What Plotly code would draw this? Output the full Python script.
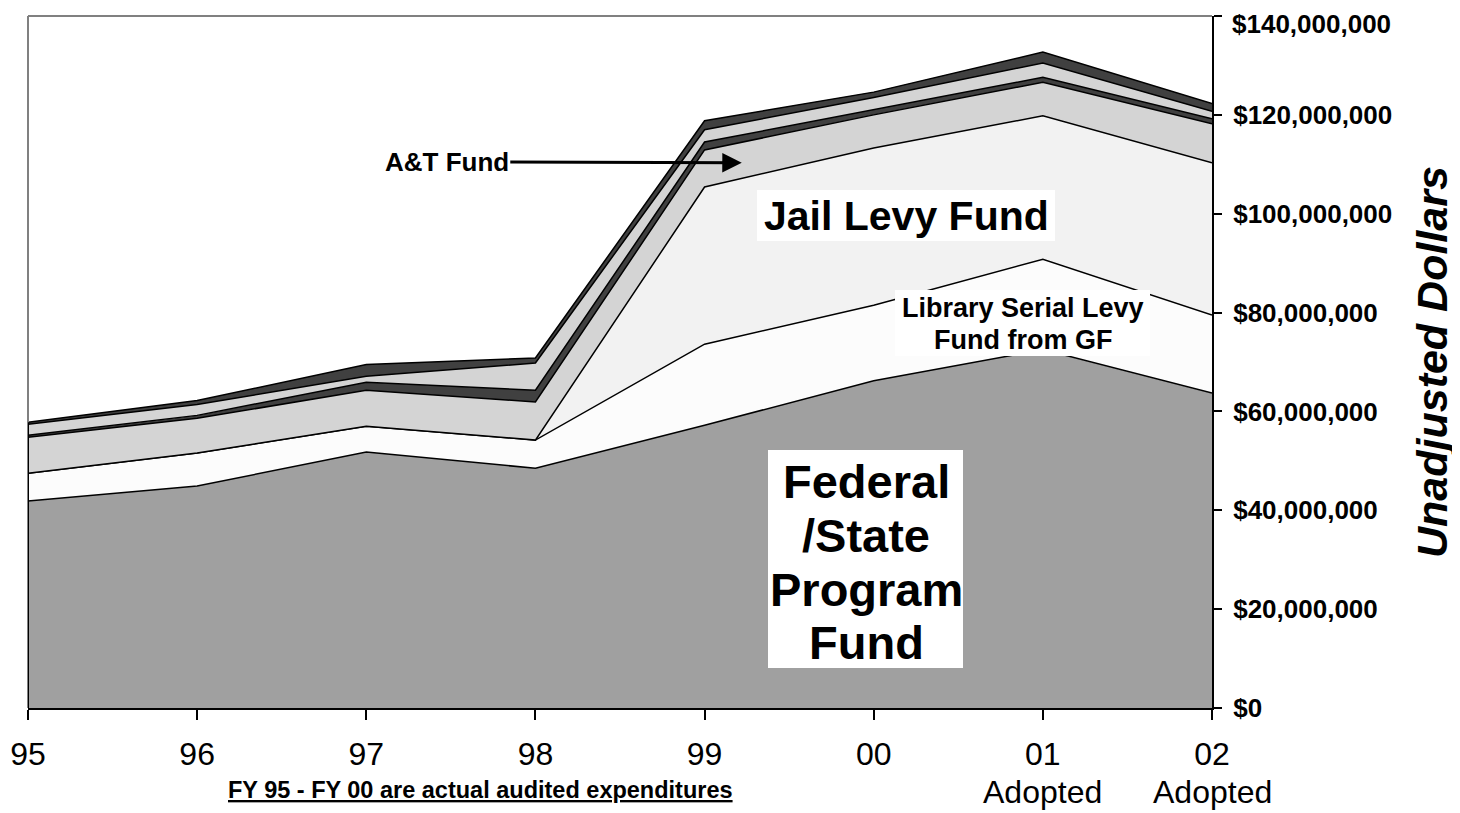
import plotly.graph_objects as go

# ---- data (dollars, in millions) ----
years = ["95", "96", "97", "98", "99", "00", "01", "02"]
tick_labels = ["95", "96", "97", "98", "99", "00", "01", "02"]
tick_sublabels = ["", "", "", "", "", "", "Adopted", "Adopted"]
federal_state = [41.9, 44.9, 51.8, 48.5, 57.2, 66.2, 72.5, 63.7]
library_levy = [5.6, 6.7, 5.2, 5.7, 16.4, 15.3, 18.3, 15.8]
jail_levy = [0.0, 0.0, 0.0, 0.0, 31.8, 31.8, 29.0, 30.8]
at_fund = [7.3, 7.0, 7.3, 7.7, 7.5, 6.7, 6.8, 7.9]
other_fund_1 = [0.4, 0.6, 1.6, 2.4, 1.6, 1.0, 1.0, 1.0]
other_fund_2 = [2.2, 2.2, 1.2, 5.5, 2.5, 2.5, 2.9, 1.5]
other_fund_3 = [0.4, 0.8, 2.4, 1.0, 1.8, 1.1, 2.2, 1.6]
y_ticks = [0, 20, 40, 60, 80, 100, 120, 140]

series = [
    ("Federal/State Program Fund", federal_state, "#a0a0a0"),
    ("Library Serial Levy Fund from GF", library_levy, "#fcfcfc"),
    ("Jail Levy Fund", jail_levy, "#f2f2f2"),
    ("A&T Fund", at_fund, "#d4d4d4"),
    ("Other Fund 1", other_fund_1, "#404040"),
    ("Other Fund 2", other_fund_2, "#d4d4d4"),
    ("Other Fund 3", other_fund_3, "#404040"),
]

M = 1e6
xs = list(range(len(years)))
FONT = "Arial, Liberation Sans, sans-serif"

# page body has an 8px margin: convert screen pixels to figure pixels
OFF = 8
W, H = 1460, 813
L, R, T, B = 28 - OFF, 1212 - OFF, 16 - OFF, 708 - OFF
PW, PH = R - L, B - T


def px(x):
    return (x - OFF - L) / PW


def py(y):
    return (B - (y - OFF)) / PH


fig = go.Figure()
for name, vals, col in series:
    fig.add_trace(go.Scatter(
        x=xs, y=[v * M for v in vals], name=name, mode="lines",
        stackgroup="s", fillcolor=col,
        line=dict(color="black", width=1.5),
        hoverinfo="skip", showlegend=False,
    ))

top0 = sum(s[1][0] for s in series) * M

shapes = [
    dict(type="line", xref="paper", yref="paper", x0=0, x1=1, y0=1, y1=1,
         line=dict(color="#808080", width=2)),
    dict(type="line", xref="paper", yref="paper", x0=0, x1=0, y0=0, y1=1,
         line=dict(color="#808080", width=2)),
    dict(type="line", xref="x", yref="y", x0=0, x1=0, y0=0, y1=top0,
         line=dict(color="black", width=2)),
]
# white label boxes
for (x0, x1, y0, y1) in [(757, 1055, 190, 241), (895, 1150, 290, 356), (768, 963, 450, 668)]:
    shapes.append(dict(type="rect", xref="paper", yref="paper", layer="above",
                       x0=px(x0), x1=px(x1), y0=py(y1), y1=py(y0),
                       fillcolor="white", line=dict(width=0)))

y_tick_text = ["${:,.0f}".format(v * M) for v in y_ticks]
# the top label is drawn as an annotation nudged down so it is not clipped
y_tick_axis_text = y_tick_text[:-1] + [""]

fig.update_layout(
    width=W, height=H,
    margin=dict(l=L, r=W - R, t=T, b=H - B),
    plot_bgcolor="white", paper_bgcolor="white",
    font=dict(family=FONT, color="black"),
    showlegend=False,
    xaxis=dict(
        range=[0, 7], tickvals=xs, ticktext=tick_labels, automargin=False,
        showgrid=False, zeroline=False, ticklabeloverflow="allow",
        showline=True, linecolor="black", linewidth=2,
        ticks="outside", ticklen=10, tickwidth=2, tickcolor="black",
        tickfont=dict(size=32, family=FONT), ticklabelstandoff=7,
    ),
    yaxis=dict(
        side="right", range=[0, 140 * M], automargin=False,
        tickvals=[v * M for v in y_ticks],
        ticktext=y_tick_axis_text,
        showgrid=False, zeroline=False, ticklabeloverflow="allow",
        showline=True, linecolor="black", linewidth=2,
        ticks="outside", ticklen=8, tickwidth=2, tickcolor="black",
        tickfont=dict(size=26, family=FONT, weight="bold"), ticklabelstandoff=6,
    ),
    shapes=shapes,
)


def label(x, y, text, size, **kw):
    d = dict(x=px(x), y=py(y), xref="paper", yref="paper", text=text,
             font=dict(size=size, family=FONT), showarrow=False,
             xanchor="center", yanchor="middle")
    d.update(kw)
    return d


ann = []
# top y tick label
ann.append(dict(x=px(1231), y=py(8), xref="paper", yref="paper",
                text="<b>" + y_tick_text[-1] + "</b>",
                font=dict(size=26, family=FONT), showarrow=False,
                xanchor="left", yanchor="top", borderpad=0))
# sub tick labels ("Adopted")
for i, s in enumerate(tick_sublabels):
    if s:
        ann.append(dict(x=xs[i], y=py(792), xref="x", yref="paper", text=s,
                        font=dict(size=32, family=FONT), showarrow=False,
                        xanchor="center", yanchor="middle"))
# A&T Fund arrow
ann.append(dict(
    x=4.22, y=110.3 * M, xref="x", yref="y",
    text="<b>A&T Fund</b>", font=dict(size=26, family=FONT),
    showarrow=True, arrowhead=2, arrowsize=1.3, arrowwidth=3, arrowcolor="black",
    ax=-295, ay=-1, standoff=0,
))
ann.append(label(906, 216, "<b>Jail Levy Fund</b>", 41))
for txt, yy in [("Library Serial Levy", 308), ("Fund from GF", 340)]:
    ann.append(label(1023, yy, "<b>" + txt + "</b>", 27))
for txt, yy in [("Federal", 481), ("/State", 535), ("Program", 589), ("Fund", 642)]:
    ann.append(label(866, yy, "<b>" + txt + "</b>", 47))
ann.append(label(1432, 362, "<b><i>Unadjusted Dollars</i></b>", 43, textangle=-90))
ann.append(label(480, 790, "<u><b>FY 95 - FY 00 are actual audited expenditures</b></u>", 23.5))
fig.update_layout(annotations=ann)

fig.write_html("out.html")
